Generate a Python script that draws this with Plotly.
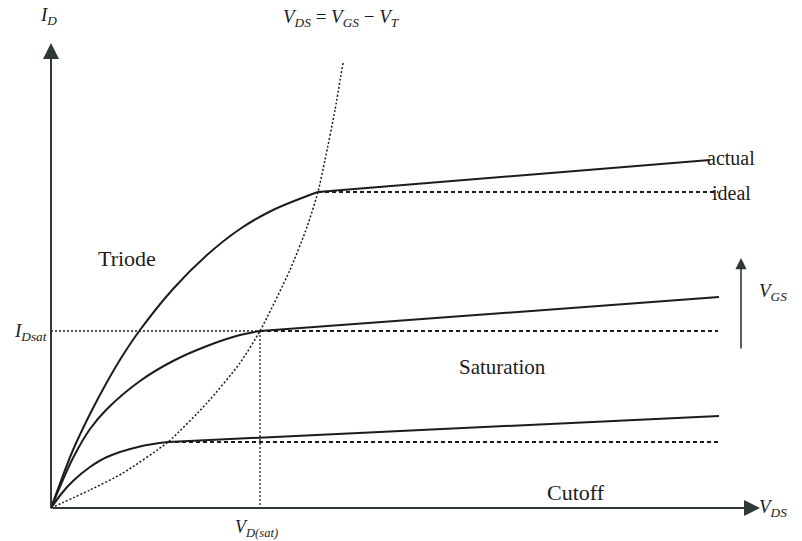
import plotly.graph_objects as go

# ---- data (arbitrary schematic units: V_DS along x, I_D along y) ----
tri1_vds = [0, 0.11, 0.22, 0.39, 0.56, 0.72, 0.89, 1.22, 1.56, 1.89, 2.22, 2.56, 2.67]
tri1_id = [0, 0.30, 0.58, 0.94, 1.26, 1.53, 1.78, 2.19, 2.53, 2.79, 2.98, 3.12, 3.16]

tri2_vds = [0, 0.11, 0.22, 0.39, 0.56, 0.89, 1.22, 1.56, 1.89, 2.09]
tri2_id = [0, 0.26, 0.50, 0.79, 0.99, 1.27, 1.47, 1.62, 1.73, 1.77]

tri3_vds = [0, 0.11, 0.22, 0.39, 0.56, 0.89, 1.17]
tri3_id = [0, 0.15, 0.27, 0.41, 0.51, 0.615, 0.66]

sat_start_vds = [2.67, 2.09, 1.17]
sat_start_id = [3.16, 1.77, 0.66]
actual_end_vds = [6.59, 6.68, 6.68]
actual_end_id = [3.48, 2.11, 0.92]
ideal_end_vds = [6.67, 6.67, 6.67]

locus_vds = [0, 0.39, 0.72, 1.17, 1.56, 1.89, 2.09, 2.39, 2.56, 2.67, 2.74, 2.84, 2.92]
locus_id = [0, 0.18, 0.35, 0.66, 1.05, 1.45, 1.77, 2.38, 2.81, 3.16, 3.48, 3.98, 4.45]

vd_sat = 2.09
id_sat = 1.77

x_axis_end = 7.09
y_axis_end = 4.65
vgs_arrow_x = 6.90
vgs_arrow_y = [1.58, 2.50]

INK = "#1c1c1c"
AXIS = "#2f3a36"
FONT = "Liberation Serif, Times New Roman, serif"

fig = go.Figure()

solid = dict(color=INK, width=2)
for xs, ys in [(tri1_vds, tri1_id), (tri2_vds, tri2_id), (tri3_vds, tri3_id)]:
    fig.add_trace(go.Scatter(x=xs, y=ys, mode="lines",
                             line=dict(shape="spline", smoothing=1.0, **solid), hoverinfo="skip"))

for x0, y0, x1, y1 in zip(sat_start_vds, sat_start_id, actual_end_vds, actual_end_id):
    fig.add_trace(go.Scatter(x=[x0, x1], y=[y0, y1], mode="lines", line=solid, hoverinfo="skip"))

for x0, y0, x1 in zip(sat_start_vds, sat_start_id, ideal_end_vds):
    fig.add_trace(go.Scatter(x=[x0, x1], y=[y0, y0], mode="lines",
                             line=dict(color=INK, width=2, dash="4px,3px"), hoverinfo="skip"))

fig.add_trace(go.Scatter(x=locus_vds, y=locus_id, mode="lines",
                         line=dict(color=INK, width=1.5, dash="2px,2px", shape="spline", smoothing=0.6),
                         hoverinfo="skip"))

# reference dotted lines for I_Dsat / V_D(sat)
fig.add_trace(go.Scatter(x=[0, vd_sat], y=[id_sat, id_sat], mode="lines",
                         line=dict(color=INK, width=1.3, dash="2px,2px"), hoverinfo="skip"))
fig.add_trace(go.Scatter(x=[vd_sat, vd_sat], y=[id_sat, 0], mode="lines",
                         line=dict(color=INK, width=1.3, dash="2px,2px"), hoverinfo="skip"))

# axes with arrows
fig.add_annotation(x=x_axis_end, y=0, ax=0, ay=0, xref="x", yref="y", axref="x", ayref="y",
                   showarrow=True, arrowhead=2, arrowsize=1.6, arrowwidth=2, arrowcolor=AXIS, text="")
fig.add_annotation(x=0, y=y_axis_end, ax=0, ay=0, xref="x", yref="y", axref="x", ayref="y",
                   showarrow=True, arrowhead=2, arrowsize=1.6, arrowwidth=2, arrowcolor=AXIS, text="")
fig.add_annotation(x=vgs_arrow_x, y=vgs_arrow_y[1], ax=vgs_arrow_x, ay=vgs_arrow_y[0],
                   xref="x", yref="y", axref="x", ayref="y",
                   showarrow=True, arrowhead=2, arrowsize=1.4, arrowwidth=1.6, arrowcolor=AXIS, text="")

def label(x, y, text, size=19, xanchor="center"):
    fig.add_annotation(x=x, y=y, xref="x", yref="y", text=text, showarrow=False,
                       xanchor=xanchor, yanchor="middle",
                       font=dict(family=FONT, size=size, color=INK))

label(-0.03, 4.92, "<i>I</i><sub><i>D</i></sub>", size=19)
label(2.90, 4.90, "<i>V</i><sub><i>DS</i></sub> = <i>V</i><sub><i>GS</i></sub> − <i>V</i><sub><i>T</i></sub>", size=19)
label(6.54, 3.50, "actual", size=20, xanchor="left")
label(6.59, 3.15, "ideal", size=20, xanchor="left")
label(7.06, 2.16, "<i>V</i><sub><i>GS</i></sub>", size=19, xanchor="left")
label(0.76, 2.50, "Triode", size=22)
label(4.51, 1.41, "Saturation", size=21)
label(5.25, 0.16, "Cutoff", size=22)
label(-0.02, 1.76, "<i>I</i><sub><i>Dsat</i></sub>", size=19, xanchor="right")
label(2.05, -0.20, "<i>V</i><sub><i>D(sat)</i></sub>", size=18)
label(7.06, 0.0, "<i>V</i><sub><i>DS</i></sub>", size=19, xanchor="left")

fig.update_layout(
    width=802, height=541,
    margin=dict(l=0, r=0, t=0, b=0),
    paper_bgcolor="white", plot_bgcolor="white",
    showlegend=False,
    xaxis=dict(range=[-0.51, 7.51], visible=False, fixedrange=True),
    yaxis=dict(range=[-0.33, 5.08], visible=False, fixedrange=True),
)

fig.write_html("out.html", config={"displayModeBar": False},
               post_script="document.body.style.margin='0';document.body.style.overflow='hidden';")
